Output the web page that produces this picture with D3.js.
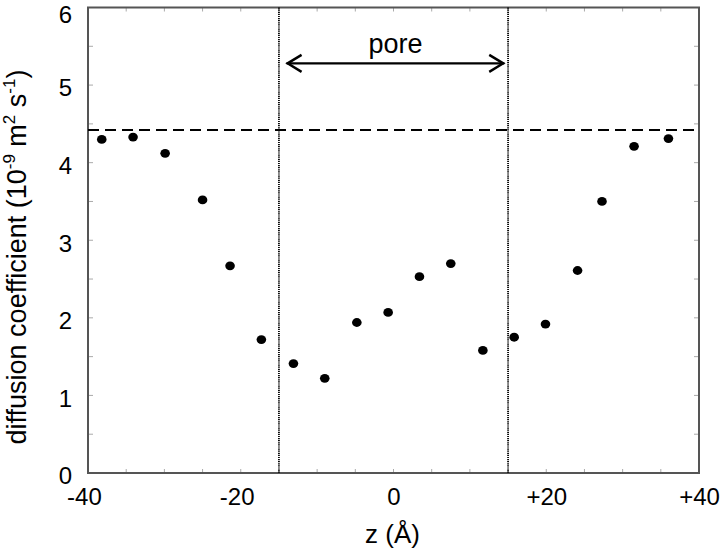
<!DOCTYPE html>
<html><head><meta charset="utf-8">
<script src="https://cdn.jsdelivr.net/npm/d3@7"></script>
<style>body{margin:0;background:#fff;} text{font-family:"Liberation Sans",Arial,sans-serif;}</style>
</head><body><svg id="c" width="720" height="549"></svg>
<script>
const zValues = [-38.2,-34.1,-29.9,-25.0,-21.4,-17.3,-13.1,-9.0,-4.8,-0.7,3.4,7.5,11.7,15.8,19.9,24.1,27.3,31.5,36.0];
const dValues = [4.30,4.33,4.12,3.52,2.67,1.72,1.41,1.22,1.94,2.07,2.53,2.70,1.58,1.75,1.92,2.61,3.50,4.21,4.31];
const bulkD = 4.42;
const poreBounds = [-15, 15];
const arrowEnds = [-14, 14.5];
const arrowLevel = 5.28;
const xTickLabels = ["-40","-20","0","+20","+40"];
const xTickValues = [-40,-20,0,20,40];
const yTickValues = [0,1,2,3,4,5,6];

const svg = d3.select("#c");
const L=88, R=699, T=7.5, B=473;
const x = d3.scaleLinear().domain([-40,40]).range([L,R]);
const y = d3.scaleLinear().domain([0,6]).range([B,T]);
const frame = "#555";
const FONT = "Liberation Sans, Arial, sans-serif";

// minor inward ticks
const xMinor = d3.range(-40,40.01,5), yMinor = d3.range(0,6.01,0.5);
const tg = svg.append("g").attr("stroke","#aaa").attr("stroke-width",1);
xMinor.forEach(v=>{
  tg.append("line").attr("x1",x(v)).attr("x2",x(v)).attr("y1",B).attr("y2",B-4);
  tg.append("line").attr("x1",x(v)).attr("x2",x(v)).attr("y1",T).attr("y2",T+4);
});
yMinor.forEach(v=>{
  tg.append("line").attr("y1",y(v)).attr("y2",y(v)).attr("x1",L).attr("x2",L+5);
  tg.append("line").attr("y1",y(v)).attr("y2",y(v)).attr("x1",R).attr("x2",R-5);
});

// frame
svg.append("rect").attr("x",L).attr("y",T).attr("width",R-L).attr("height",B-T)
  .attr("fill","none").attr("stroke",frame).attr("stroke-width",2);

// axes labels via d3 axes
const xAxis = d3.axisBottom(x).tickValues(xTickValues).tickFormat((d,i)=>xTickLabels[i]).tickSize(0).tickPadding(15);
const gx = svg.append("g").attr("transform",`translate(0,${B})`).call(xAxis);
gx.select(".domain").remove();
gx.selectAll("text").attr("font-size",24).attr("fill","#000").attr("font-family",FONT)
  .attr("dx",(d,i)=>xTickLabels[i].startsWith("-") ? "-0.17em" : 0);

const yAxis = d3.axisLeft(y).tickValues(yTickValues).tickFormat(d3.format("d")).tickSize(0).tickPadding(16);
const gy = svg.append("g").attr("transform",`translate(${L},0)`).call(yAxis);
gy.select(".domain").remove();
gy.selectAll("text").attr("font-size",24).attr("fill","#000").attr("font-family",FONT)
  .attr("dy",d => (y(d) + 11 < 22 ? (22 - y(d)) + "px" : "0.45em"));

// dashed bulk line
svg.append("line").attr("x1",L).attr("x2",R).attr("y1",y(bulkD)).attr("y2",y(bulkD))
  .attr("stroke","#000").attr("stroke-width",2).attr("stroke-dasharray","11,6");

// dotted pore bounds
poreBounds.forEach(v=>{
  svg.append("line").attr("x1",x(v)).attr("x2",x(v)).attr("y1",T).attr("y2",B)
    .attr("stroke","#000").attr("stroke-width",1.8).attr("stroke-dasharray","1.2,0.9");
});

// arrow
const ay = y(arrowLevel);
const ax1 = x(arrowEnds[0]), ax2 = x(arrowEnds[1]);
svg.append("line").attr("x1",ax1).attr("x2",ax2).attr("y1",ay).attr("y2",ay).attr("stroke","#000").attr("stroke-width",2.2);
svg.append("path").attr("d",`M${ax1+15},${ay-8.5} L${ax1+1},${ay} L${ax1+15},${ay+8.5}`).attr("fill","none").attr("stroke","#000").attr("stroke-width",2.4);
svg.append("path").attr("d",`M${ax2-15},${ay-8.5} L${ax2-1},${ay} L${ax2-15},${ay+8.5}`).attr("fill","none").attr("stroke","#000").attr("stroke-width",2.4);
svg.append("text").attr("x",(ax1+ax2)/2).attr("y",53).attr("text-anchor","middle").attr("font-size",27).text("pore");

// points
svg.append("g").selectAll("ellipse").data(zValues).join("ellipse")
  .attr("cx",(d)=>x(d)).attr("cy",(d,i)=>y(dValues[i])).attr("rx",4.8).attr("ry",4.4).attr("fill","#000");

// axis titles
svg.append("text").attr("x",x(0)-1).attr("y",543).attr("text-anchor","middle").attr("font-size",26).text("z (Å)");
const yt = svg.append("text").attr("transform",`translate(26,257) rotate(-90)`).attr("text-anchor","middle").attr("font-size",27);
yt.append("tspan").text("diffusion coefficient (10");
yt.append("tspan").attr("dy",-11).attr("font-size",17).text("-9");
yt.append("tspan").attr("dy",11).text(" m");
yt.append("tspan").attr("dy",-11).attr("font-size",17).text("2");
yt.append("tspan").attr("dy",11).text(" s");
yt.append("tspan").attr("dy",-11).attr("font-size",17).text("-1");
yt.append("tspan").attr("dy",11).text(")");
</script></body></html>
